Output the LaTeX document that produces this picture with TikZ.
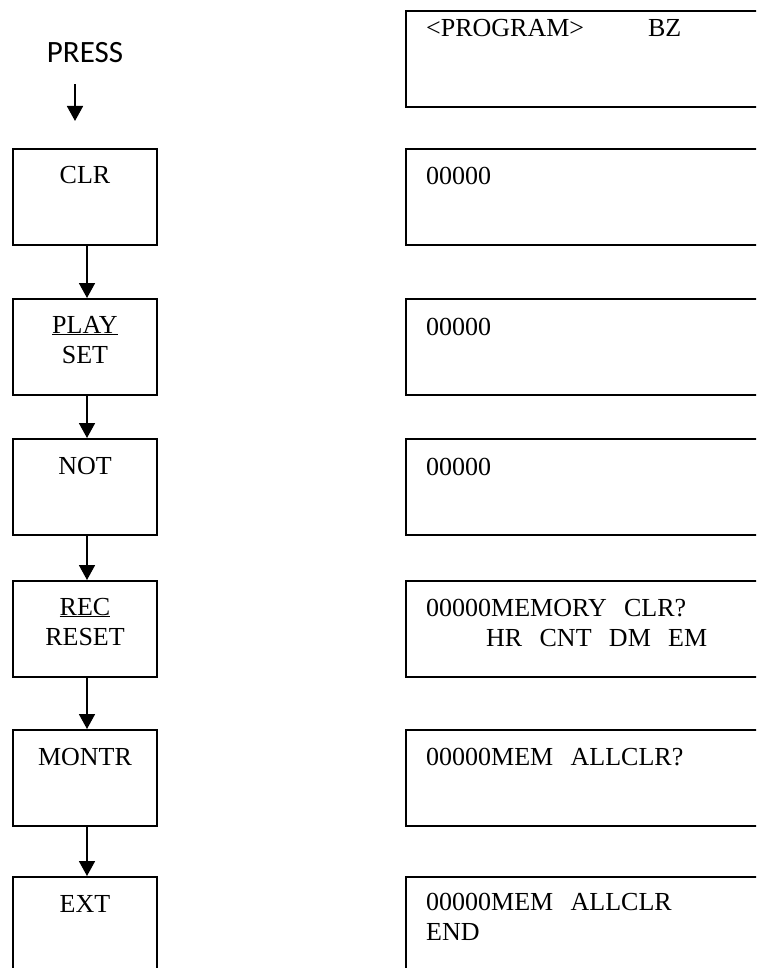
\documentclass[tikz,border=0pt]{standalone}
\usepackage{fontspec}
\setmainfont{Liberation Serif}
\newfontfamily\pressfont{Carlito}
\usetikzlibrary{arrows.meta,positioning}

\begin{document}
\begin{tikzpicture}[x=1pt,y=-1pt,
    keybox/.style={draw,line width=2.2pt,minimum width=144pt,minimum height=96pt,inner sep=0pt},
    lcdbox/.style={draw,line width=2.2pt,minimum width=420pt,minimum height=96pt,inner sep=0pt,anchor=north west},
    keytxt/.style={font=\fontsize{26}{30.5}\selectfont,text width=144pt,align=center,inner sep=0pt,anchor=base},
    lcdtxt/.style={font=\fontsize{26}{30.5}\selectfont,text width=320pt,align=left,inner sep=0pt,anchor=base west},
    flow/.style={line width=1.8pt,-{Triangle[length=15pt,width=16pt]}}]
        \useasboundingbox (0,0) rectangle (756,968);
        \clip (0,0) rectangle (756,968);
        % keys
        \node[font=\pressfont\fontsize{31}{34}\selectfont,inner sep=0pt,anchor=base] (press) at (85,63) {PRESS};
        \coordinate (pressend) at (75,121);
        \node[keybox,anchor=north] (kclr) at (85,148) {};
        \node[keybox,anchor=north] (kplay) at (85,298) {};
        \node[keybox,anchor=north] (knot) at (85,438) {};
        \node[keybox,anchor=north] (krec) at (85,580) {};
        \node[keybox,anchor=north] (kmon) at (85,729) {};
        \node[keybox,anchor=north] (kext) at (85,876) {};
        \node[keytxt] (tclr) at ([yshift=-36pt]kclr.north) {CLR};
        \node[keytxt] (tplay) at ([yshift=-35pt]kplay.north) {\underline{PLAY}\\SET};
        \node[keytxt] (tnot) at ([yshift=-36pt]knot.north) {NOT};
        \node[keytxt] (trec) at ([yshift=-35pt]krec.north) {\underline{REC}\\RESET};
        \node[keytxt] (tmon) at ([yshift=-36pt]kmon.north) {MONTR};
        \node[keytxt] (text) at ([yshift=-36pt]kext.north) {EXT};
        \draw[flow] ([xshift=-10pt,yshift=-21pt]press.south) -- (pressend);
        \draw[flow] ([xshift=2pt]kclr.south) -- ([xshift=2pt]kplay.north);
        \draw[flow] ([xshift=2pt]kplay.south) -- ([xshift=2pt]knot.north);
        \draw[flow] ([xshift=2pt]knot.south) -- ([xshift=2pt]krec.north);
        \draw[flow] ([xshift=2pt]krec.south) -- ([xshift=2pt]kmon.north);
        \draw[flow] ([xshift=2pt]kmon.south) -- ([xshift=2pt]kext.north);
        % display
        \node[lcdbox] (lhead) at (405,10) {};
        \node[lcdbox] (lclr) at (405,148) {};
        \node[lcdbox] (lplay) at (405,298) {};
        \node[lcdbox] (lnot) at (405,438) {};
        \node[lcdbox] (lrec) at (405,580) {};
        \node[lcdbox] (lmon) at (405,729) {};
        \node[lcdbox] (lext) at (405,876) {};
        \node[lcdtxt] at ([xshift=21pt,yshift=-27pt]lhead.north west) {<PROGRAM>\hspace{64pt}BZ};
        \node[lcdtxt] at ([xshift=21pt,yshift=-37pt]lclr.north west) {00000};
        \node[lcdtxt] at ([xshift=21pt,yshift=-37pt]lplay.north west) {00000};
        \node[lcdtxt] at ([xshift=21pt,yshift=-37pt]lnot.north west) {00000};
        \node[lcdtxt] at ([xshift=21pt,yshift=-36pt]lrec.north west) {00000MEMORY~~CLR?\\\hspace*{60pt}HR~~CNT~~DM~~EM};
        \node[lcdtxt] at ([xshift=21pt,yshift=-36pt]lmon.north west) {00000MEM~~ALLCLR?};
        \node[lcdtxt] at ([xshift=21pt,yshift=-34pt]lext.north west) {00000MEM~~ALLCLR\\END};
      \end{tikzpicture}
\end{document}
